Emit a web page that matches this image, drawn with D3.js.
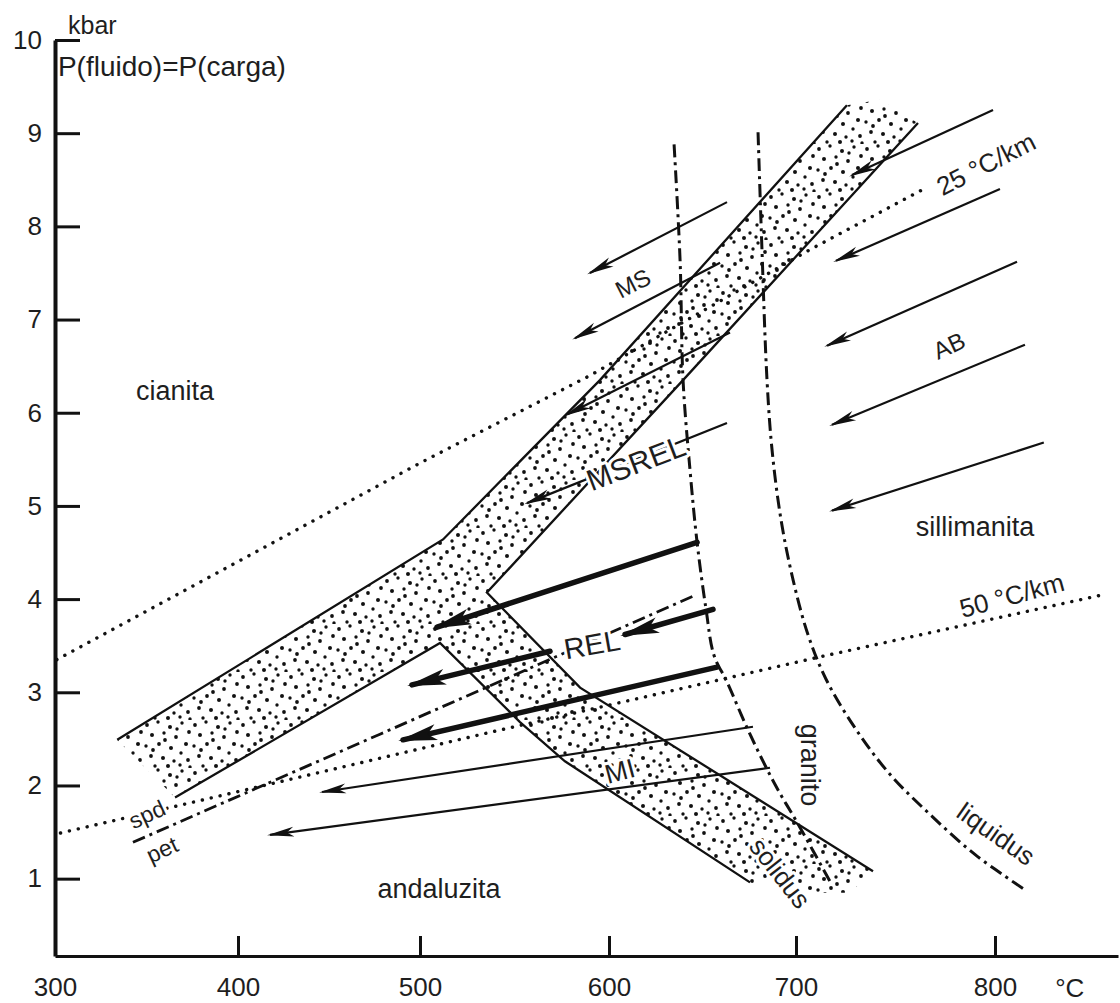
<!DOCTYPE html>
<html lang="es">
<head>
<meta charset="utf-8">
<title>P-T</title>
<script src="https://d3js.org/d3.v7.min.js"></script>
<style>
  body { margin: 0; background: #fff; }
  svg { display: block; font-family: "Liberation Sans", Arial, sans-serif; }
  .axis text { font-size: 26px; fill: #1e1e1e; }
  .axis line { stroke: #111; stroke-width: 3; }
  .axis path { stroke: #111; }
  .band-line { fill: none; stroke: #111; stroke-width: 2.3; }
  .dotted { fill: none; stroke: #111; stroke-width: 3.4; stroke-linecap: round; stroke-dasharray: 0.1 9; }
  .dashdot { fill: none; stroke: #111; stroke-width: 3; stroke-dasharray: 13 5 3 5; }
  .thin { stroke: #111; stroke-width: 2.2; }
  .thick { stroke: #111; stroke-width: 5.5; stroke-linecap: round; }
  .lbl { fill: #1e1e1e; }
  .halo { paint-order: stroke; stroke: #fff; stroke-width: 6; stroke-linejoin: round; }
</style>
</head>
<body>
<script>
var w = 1120, h = 1003;

// axis ticks
var tTicks = [300, 400, 500, 600, 700, 800];
var pTicks = [1, 2, 3, 4, 5, 6, 7, 8, 9, 10];

// curves, [T (°C), P (kbar)]
var grad25 = [[301, 3.35], [500, 5.46], [590, 6.40], [707, 7.75], [765, 8.41]];
var grad50 = [[303, 1.49], [364.5, 1.77], [537, 2.57], [712, 3.38], [853, 4.04]];
var petLine = [[342.6, 1.39], [478, 2.55], [644.9, 4.03]];

// stippled Al2SiO5 bands
var bandUpper = [[334, 2.49], [512.2, 4.64], [595.2, 6.35], [725.6, 9.30]];
var bandTopEnd = [[742.2, 9.36]];
var innerRight = [[761.3, 9.11], [639.6, 6.35], [535.4, 4.07], [584.7, 3.05], [738.7, 1.08]];
var bandBottomEnd = [[727.1, 0.85], [696.8, 0.85]];
var innerLeft = [[365.6, 1.87], [510.6, 3.53], [552.9, 2.68], [576.7, 2.26], [675.4, 0.96]];

var solidus = [[634.8, 8.88], [638.0, 7.64], [639.6, 6.35], [643.3, 5.39], [647.1, 4.61], [651.9, 3.89],
  [656.1, 3.40], [663.1, 3.11], [675.4, 2.55], [688.8, 2.01], [702.0, 1.55], [717.1, 0.97]];
var liquidus = [[679.7, 9.01], [681.8, 7.75], [684.5, 6.35], [687.2, 5.60], [692.0, 4.85], [698.4, 4.21],
  [706.0, 3.62], [715.1, 3.14], [730.2, 2.60], [747.2, 2.12], [767.3, 1.69], [789.9, 1.26],
  [815.1, 0.88]];

// arrows: [T tail, P tail, T head, P head]
var thinArrows = [
  [663.1, 8.26, 589.9, 7.50],
  [659.4, 7.61, 582.0, 6.80],
  [664.7, 6.86, 577.8, 5.98],
  [663.1, 5.89, 556.6, 5.03],
  [677.0, 2.63, 446.2, 1.93],
  [686.1, 2.19, 417.6, 1.47],
  [799.0, 9.25, 728.1, 8.55],
  [802.5, 8.40, 720.1, 7.63],
  [811.1, 7.62, 715.6, 6.72],
  [815.1, 6.73, 718.1, 5.87],
  [824.6, 5.68, 718.1, 4.95]
];
var thickArrows = [
  [647.1, 4.61, 509.0, 3.70],
  [655.6, 3.89, 608.6, 3.62],
  [568.8, 3.44, 495.6, 3.08],
  [657.8, 3.27, 490.7, 2.49]
];

// labels: text, T, P
var labels = [
  ["cianita", 365.6, 6.23],
  ["andaluzita", 510.1, 0.89],
  ["sillimanita", 790, 4.77],
  ["granito", 707.0, 2.22],
  ["solidus", 691.4, 1.06],
  ["liquidus", 800.5, 1.48],
  ["MS", 612.8, 7.39],
  ["AB", 776.9, 6.72],
  ["MSREL", 614.4, 5.46],
  ["REL", 591, 3.51],
  ["MI", 605.9, 2.15],
  ["spd", 350.3, 1.69],
  ["pet", 358.5, 1.31],
  ["25 °C/km", 795.5, 8.67],
  ["50 °C/km", 808.5, 4.04],
  ["P(fluido)=P(carga)", 301.6, 9.72],
  ["kbar", 307.1, 10.16],
  ["°C", 837.7, -0.17]
];
var labelStyle = {
  "cianita": {size: 27}, "andaluzita": {size: 27}, "sillimanita": {size: 27},
  "granito": {size: 27, rot: 90}, "solidus": {size: 26, rot: 52, halo: true},
  "liquidus": {size: 26, rot: 35}, "MS": {size: 24, rot: -27}, "AB": {size: 24, rot: -25},
  "MSREL": {size: 30, rot: -21, halo: true}, "REL": {size: 29, rot: -10, halo: true},
  "MI": {size: 27, rot: -15, halo: true}, "spd": {size: 23, rot: -25, halo: true},
  "pet": {size: 23, rot: -25, halo: true}, "25 °C/km": {size: 26, rot: -27, halo: true},
  "50 °C/km": {size: 26, rot: -15}, "P(fluido)=P(carga)": {size: 28, anchor: "start"},
  "kbar": {size: 25, anchor: "start"}, "°C": {size: 26}
};

// stipple texture tile (48 x 48): cx, cy, r
var stippleDots = [[3,5,1.9],[14,2,1.7],[26,7,2.0],[38,3,1.7],[45,12,1.9],[8,15,2.0],[20,13,1.7],
  [32,17,1.9],[42,24,2.0],[2,26,1.7],[15,24,1.9],[27,28,2.0],[37,33,1.7],[7,36,1.9],[19,38,2.0],
  [30,41,1.7],[44,40,1.9],[11,46,1.7],[24,46,2.0],[36,45,1.7],[21,20,1.9],[33,9,1.7],[9,30,1.9],
  [46,47,1.7]];

var svg = d3.select("body").append("svg")
  .attr("width", w)
  .attr("height", h);

svg.append("rect").attr("width", w).attr("height", h).attr("fill", "#fff");

var yBase = 0.17;
var x = d3.scaleLinear()
  .domain([300, 400, 500, 600, 700, 800, 862])
  .range([55, 238, 420, 609, 796, 995, 1118]);
var y = d3.scaleLinear()
  .domain([yBase, 10])
  .range([956, 40]);

var line = d3.line().x(function(d) { return x(d[0]); }).y(function(d) { return y(d[1]); });
var smooth = d3.line().x(function(d) { return x(d[0]); }).y(function(d) { return y(d[1]); })
  .curve(d3.curveCatmullRom.alpha(0.5));

var defs = svg.append("defs");

var pat = defs.append("pattern")
  .attr("id", "stipple")
  .attr("patternUnits", "userSpaceOnUse")
  .attr("width", 48)
  .attr("height", 48);
pat.selectAll("circle")
  .data(stippleDots)
  .join("circle")
  .attr("cx", function(d) { return d[0]; })
  .attr("cy", function(d) { return d[1]; })
  .attr("r", function(d) { return d[2]; })
  .attr("fill", "#111");

defs.append("marker")
  .attr("id", "headThin")
  .attr("markerUnits", "userSpaceOnUse")
  .attr("viewBox", "-28 -7 32 14")
  .attr("markerWidth", 32).attr("markerHeight", 14)
  .attr("refX", 0).attr("refY", 0)
  .attr("orient", "auto")
  .append("path")
  .attr("d", "M3,0 L-24,-5 L-17,0 L-24,5 Z")
  .attr("fill", "#111");

defs.append("marker")
  .attr("id", "headThick")
  .attr("markerUnits", "userSpaceOnUse")
  .attr("viewBox", "-40 -10 46 20")
  .attr("markerWidth", 46).attr("markerHeight", 20)
  .attr("refX", 0).attr("refY", 0)
  .attr("orient", "auto")
  .append("path")
  .attr("d", "M5,0 L-34,-8 L-25,0 L-34,8 Z")
  .attr("fill", "#111");

// stipple fill
var bandPoly = bandUpper.concat(bandTopEnd, innerRight, bandBottomEnd, innerLeft.slice().reverse());
svg.append("path")
  .attr("d", line(bandPoly) + "Z")
  .attr("fill", "url(#stipple)")
  .attr("stroke", "none");

// band outlines
[bandUpper, innerRight, innerLeft].forEach(function(pts) {
  svg.append("path").attr("class", "band-line").attr("d", line(pts));
});

// geotherms
svg.append("path").attr("class", "dotted").attr("d", line(grad25));
svg.append("path").attr("class", "dotted").attr("d", line(grad50));

// dash-dot curves
svg.append("path").attr("class", "dashdot").attr("d", line(petLine)).style("stroke-width", 2.8);
svg.append("path").attr("class", "dashdot").attr("d", smooth(solidus));
svg.append("path").attr("class", "dashdot").attr("d", smooth(liquidus));

// arrows
svg.append("g").selectAll("line")
  .data(thinArrows)
  .join("line")
  .attr("class", "thin")
  .attr("x1", function(d) { return x(d[0]); })
  .attr("y1", function(d) { return y(d[1]); })
  .attr("x2", function(d) { return x(d[2]); })
  .attr("y2", function(d) { return y(d[3]); })
  .attr("marker-end", "url(#headThin)");

svg.append("g").selectAll("line")
  .data(thickArrows)
  .join("line")
  .attr("class", "thick")
  .attr("x1", function(d) { return x(d[0]); })
  .attr("y1", function(d) { return y(d[1]); })
  .attr("x2", function(d) { return x(d[2]); })
  .attr("y2", function(d) { return y(d[3]); })
  .attr("marker-end", "url(#headThick)");

// axes
var xAxis = d3.axisBottom(x)
  .tickValues(tTicks)
  .tickSizeInner(-20)
  .tickSizeOuter(0)
  .tickPadding(22)
  .tickFormat(d3.format("d"));
var gx = svg.append("g")
  .attr("class", "axis")
  .attr("transform", "translate(0," + y(yBase) + ")")
  .call(xAxis);
gx.select(".domain").style("stroke-width", 3);

var yAxis = d3.axisLeft(y)
  .tickValues(pTicks)
  .tickSizeInner(-25)
  .tickSizeOuter(0)
  .tickPadding(13);
var gy = svg.append("g")
  .attr("class", "axis")
  .attr("transform", "translate(" + x(300) + ",0)")
  .call(yAxis);
gy.select(".domain").style("stroke-width", 4);

// labels
svg.append("g").selectAll("text")
  .data(labels)
  .join("text")
  .attr("class", function(d) { return "lbl" + (labelStyle[d[0]].halo ? " halo" : ""); })
  .attr("transform", function(d) {
    var s = labelStyle[d[0]];
    return "translate(" + x(d[1]) + "," + y(d[2]) + ")" + (s.rot ? " rotate(" + s.rot + ")" : "");
  })
  .attr("text-anchor", function(d) { return labelStyle[d[0]].anchor || "middle"; })
  .attr("dominant-baseline", "central")
  .style("font-size", function(d) { return labelStyle[d[0]].size + "px"; })
  .text(function(d) { return d[0]; });
</script>
</body>
</html>
